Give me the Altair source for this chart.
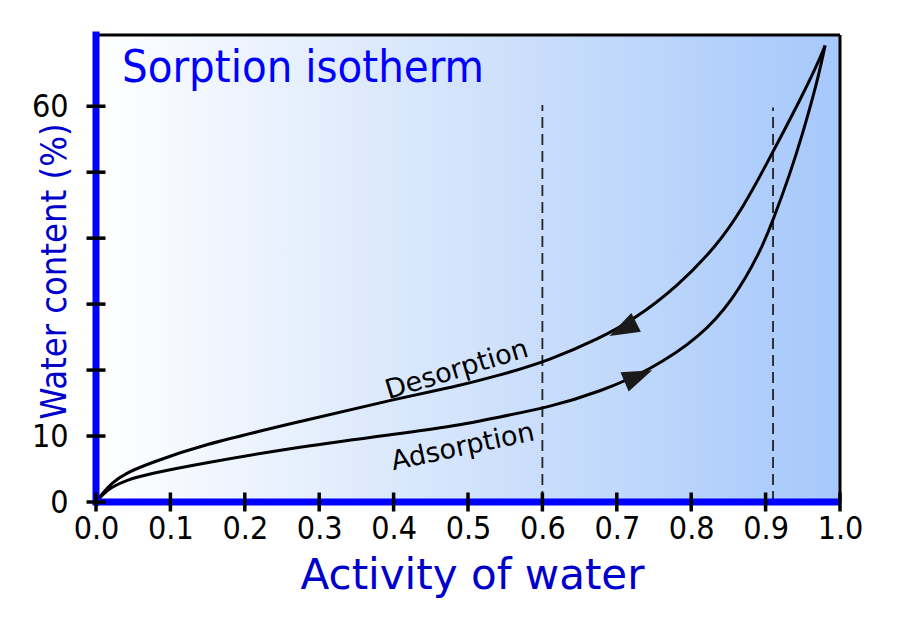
import altair as alt
import pandas as pd

# ---- data ----
chart_title = "Sorption isotherm"
x_title = "Activity of water"
y_title = "Water content (%)"

desorption_x = [0.0, 0.008, 0.02, 0.04, 0.073, 0.14, 0.274, 0.409, 0.476, 0.543, 0.610,
                0.677, 0.722, 0.781, 0.835, 0.870, 0.902, 0.923, 0.946, 0.969, 0.980]
desorption_y = [0.0, 1.2, 2.8, 4.4, 5.9, 8.6, 12.2, 15.8, 17.3, 19.2, 21.5,
                24.8, 27.6, 32.6, 38.9, 44.7, 51.4, 55.9, 60.9, 66.2, 69.2]

adsorption_x = [0.0, 0.008, 0.02, 0.04, 0.073, 0.14, 0.274, 0.409, 0.476, 0.543, 0.610,
                0.677, 0.745, 0.812, 0.856, 0.892, 0.910, 0.933, 0.950, 0.969, 0.980]
adsorption_y = [0.0, 1.0, 2.2, 3.3, 4.3, 5.8, 8.4, 10.4, 11.4, 12.9, 14.4,
                16.7, 20.0, 25.0, 30.6, 37.7, 42.7, 49.8, 55.9, 63.5, 69.2]

x_ticks = [0.0, 0.1, 0.2, 0.3, 0.4, 0.5, 0.6, 0.7, 0.8, 0.9, 1.0]
y_ticks = [0, 10, 20, 30, 40, 50, 60]
y_tick_labels = [0, 10, 60]

dashed_x = [0.6, 0.91]
dashed_top = [60.2, 59.8]

arrow_x = [0.708, 0.729]
arrow_y = [26.2, 19.1]
arrow_angle = [153, 337]

label_text = ["Desorption", "Adsorption"]
label_x = [0.485, 0.493]
label_y = [20.0, 8.3]
label_angle = [343, 348]

x_max = 1.0
y_max = 70.8

# ---- tables ----
curves = pd.concat([
    pd.DataFrame({"aw": desorption_x, "w": desorption_y, "curve": "Desorption"}),
    pd.DataFrame({"aw": adsorption_x, "w": adsorption_y, "curve": "Adsorption"}),
])
bounds = pd.DataFrame({"x0": [0.0], "x1": [x_max], "y0": [0.0], "y1": [y_max]})
dashes = pd.DataFrame({"x": dashed_x, "top": dashed_top, "bottom": [0, 0]})
arrows = pd.DataFrame({"x": arrow_x, "y": arrow_y, "a": arrow_angle})
xt = pd.DataFrame({"v": x_ticks, "zero": [0.0] * len(x_ticks)})
yt = pd.DataFrame({"v": y_ticks, "zero": [0.0] * len(y_ticks)})

FONT = "DejaVu Sans"
FONT_C = "DejaVu Sans Condensed, DejaVu Sans"
BLUE = "#0000ff"
DBLUE = "#0000cc"

xs = alt.Scale(domain=[0, x_max], nice=False, zero=False)
ys = alt.Scale(domain=[0, y_max], nice=False, zero=False)

x_axis = alt.Axis(values=x_ticks, format=".1f", title=x_title, ticks=False, domain=False,
                  grid=False, labelFont=FONT_C, labelFontSize=32, labelColor="black",
                  labelPadding=11, titleFont=FONT, titleFontSize=42, titleColor=DBLUE,
                  titleFontWeight="normal", titleBaseline="alphabetic", titleY=86,
                  titleX=376, titleAlign="center", labelFlush=False)
y_axis = alt.Axis(values=y_tick_labels, format="d", title=y_title, ticks=False, domain=False,
                  grid=False, labelFont=FONT_C, labelFontSize=32, labelColor="black",
                  labelPadding=28, labelBaseline="middle", titleFont=FONT_C, titleFontSize=36,
                  titleColor=DBLUE, titleFontWeight="normal", titleBaseline="alphabetic",
                  titleAngle=270, titleX=-31, titleY=236, titleAlign="center", labelFlush=False)

background = alt.Chart(bounds).mark_rect(
    fill=alt.Gradient(gradient="linear",
                      stops=[alt.GradientStop(color="#ffffff", offset=0),
                             alt.GradientStop(color="#d2e3fb", offset=0.5),
                             alt.GradientStop(color="#a6c8fb", offset=1)],
                      x1=0, x2=1, y1=0, y2=0)
).encode(
    x=alt.X("x0:Q", scale=xs, axis=x_axis), x2="x1:Q",
    y=alt.Y("y0:Q", scale=ys, axis=y_axis), y2="y1:Q",
)

dashed = alt.Chart(dashes).mark_rule(color="#222222", strokeWidth=1.8, strokeDash=[11, 6]).encode(
    x=alt.X("x:Q", scale=xs), y=alt.Y("bottom:Q", scale=ys), y2="top:Q")

lines = alt.Chart(curves).mark_line(color="black", strokeWidth=3, interpolate="basis").encode(
    x=alt.X("aw:Q", scale=xs), y=alt.Y("w:Q", scale=ys), detail="curve:N", order="aw:Q")

arrow_marks = alt.Chart(arrows).mark_point(
    shape="M-1,-0.7L1,0L-1,0.7Z", filled=True, fill="#1a1a1a", opacity=1, size=900, strokeWidth=0
).encode(
    x=alt.X("x:Q", scale=xs), y=alt.Y("y:Q", scale=ys),
    angle=alt.Angle("a:Q", scale=None))

text_layers = []
for t, lx, ly, la in zip(label_text, label_x, label_y, label_angle):
    text_layers.append(
        alt.Chart(pd.DataFrame({"x": [lx], "y": [ly], "t": [t]})).mark_text(
            font=FONT, fontSize=27, color="black", angle=la, align="center", baseline="middle"
        ).encode(x=alt.X("x:Q", scale=xs), y=alt.Y("y:Q", scale=ys), text="t:N"))

top_border = alt.Chart(bounds).mark_rule(color="black", strokeWidth=3).encode(
    x=alt.X("x0:Q", scale=xs), x2="x1:Q", y=alt.Y("y1:Q", scale=ys))
right_border = alt.Chart(bounds).mark_rule(color="black", strokeWidth=3).encode(
    x=alt.X("x1:Q", scale=xs), y=alt.Y("y0:Q", scale=ys), y2="y1:Q")

blue_left = alt.Chart(bounds).mark_rule(color=BLUE, strokeWidth=7, strokeCap="square").encode(
    x=alt.X("x0:Q", scale=xs), y=alt.Y("y0:Q", scale=ys), y2="y1:Q")
blue_bottom = alt.Chart(bounds).mark_rule(color=BLUE, strokeWidth=7).encode(
    x=alt.X("x0:Q", scale=xs), x2="x1:Q", y=alt.Y("y0:Q", scale=ys))

x_tick_marks = alt.Chart(xt).mark_tick(orient="vertical", color="black", size=19, thickness=3.5, opacity=1).encode(
    x=alt.X("v:Q", scale=xs), y=alt.Y("zero:Q", scale=ys))
y_tick_marks = alt.Chart(yt).mark_tick(orient="horizontal", color="black", size=19, thickness=3.5, opacity=1).encode(
    x=alt.X("zero:Q", scale=xs), y=alt.Y("v:Q", scale=ys))

title_mark = alt.Chart(bounds).mark_text(
    font=FONT_C, fontSize=45, color=BLUE, align="left", baseline="alphabetic"
).encode(x=alt.value(26), y=alt.value(47), text=alt.value(chart_title))

chart = alt.layer(
    background, dashed, lines, arrow_marks, *text_layers,
    top_border, right_border, blue_left, blue_bottom,
    x_tick_marks, y_tick_marks, title_mark
).properties(
    width=744, height=467,
    autosize=alt.AutoSizeParams(type="none"),
    padding={"left": 88, "top": 27, "right": 52, "bottom": 110},
    background="white",
).configure_view(strokeWidth=0)

chart.save("out.html", embed_options={"renderer": "svg", "actions": False})
